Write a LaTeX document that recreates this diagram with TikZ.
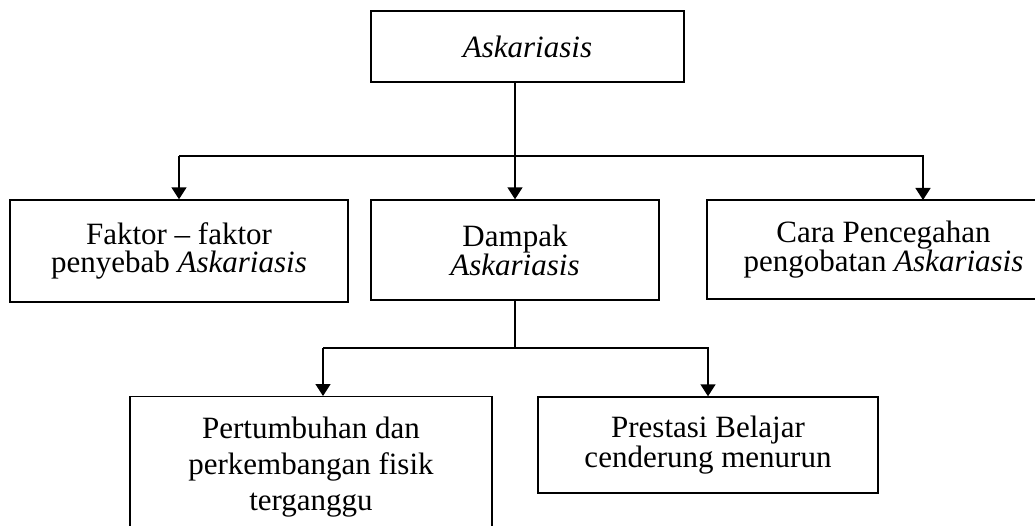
\documentclass[tikz,border=0pt]{standalone}
\usepackage{fontspec}
\setmainfont{Liberation Serif}
\usetikzlibrary{arrows.meta}

\begin{document}
\begin{tikzpicture}[x=1pt,y=-1pt,
  box/.style={draw,line width=1.4pt,align=center,inner sep=0pt,
    font=\fontsize{31}{28}\selectfont},
  arr/.style={line width=1.5pt,-{Triangle[length=12pt,width=15pt]}}]
  \useasboundingbox (0,0) rectangle (1035,526);
  \clip (0,0) rectangle (1035,526);

  \node [box,minimum width=313pt,minimum height=71pt] (top) at (527.5,46.5)
  {\textit{Askariasis}};

  \node [box,minimum width=338pt,minimum height=102pt] (fak) at (179,251)
  {Faktor -- faktor\\penyebab \textit{Askariasis}};
  \node [box,minimum width=288pt,minimum height=100pt] (dam) at (515,250)
  {Dampak\\\textit{Askariasis}};
  \node [box,minimum width=353pt,minimum height=99pt] (cara) at (883.5,249.5)
  {Cara Pencegahan\\pengobatan \textit{Askariasis}};

  \node [box,anchor=north,minimum width=362pt,inner ysep=20pt,
  font=\fontsize{31}{36}\selectfont] (per) at (311,396)
  {Pertumbuhan dan\\perkembangan fisik\\terganggu};
  \node [box,minimum width=340pt,minimum height=96pt,
  font=\fontsize{31}{30}\selectfont] (pre) at (708,445)
  {Prestasi Belajar\\cenderung menurun};

  % first level
  \coordinate (bus1) at (516,156);
  \coordinate (caraIn) at (923,200);
  \draw [arr] (top.south -| dam.north) -- (dam.north);
  \draw [arr] (bus1 -| fak.north) -- (fak.north);
  \draw [arr] (bus1 -| fak.north) -| (caraIn);

  % second level
  \coordinate (bus2) at (516,348);
  \coordinate (perIn) at (323,396);
  \draw [line width=1.5pt] (dam.south) -- (dam.south |- bus2);
  \draw [arr] (bus2 -| perIn) -- (perIn);
  \draw [arr] (bus2 -| perIn) -| (pre.north);

\end{tikzpicture}
\end{document}
